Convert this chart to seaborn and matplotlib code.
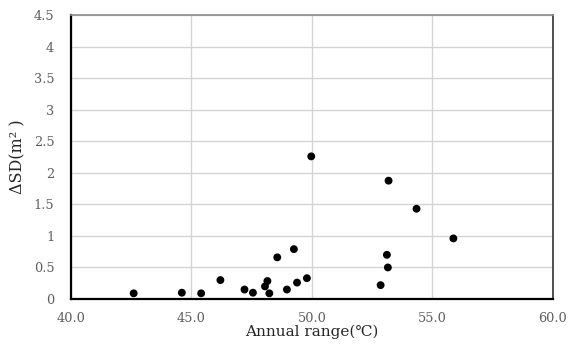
import matplotlib
matplotlib.use("Agg")
import matplotlib.pyplot as plt
import seaborn as sns
import pandas as pd

annual_range = [42.6, 44.6, 45.4, 46.2, 47.2, 47.55, 48.05, 48.15, 48.23, 48.56, 48.96,
                49.25, 49.38, 49.79, 49.97, 53.18, 54.34, 55.87, 53.11, 53.15, 52.85]
delta_sd = [0.09, 0.10, 0.09, 0.30, 0.15, 0.10, 0.20, 0.285, 0.09, 0.66, 0.15,
            0.79, 0.26, 0.33, 2.26, 1.875, 1.43, 0.96, 0.70, 0.50, 0.22]
x_ticks = [40, 45, 50, 55, 60]
y_ticks = [0, 0.5, 1, 1.5, 2, 2.5, 3, 3.5, 4, 4.5]

df = pd.DataFrame({"x": annual_range, "y": delta_sd})

sns.set_theme(style="white")
plt.rcParams['font.family'] = ['DejaVu Serif', 'Noto Sans CJK KR', 'DejaVu Sans']

fig = plt.figure(figsize=(5.7, 3.47), dpi=100)
ax = fig.add_axes([0.1246, 0.1383, 0.8454, 0.8185])

sns.scatterplot(data=df, x="x", y="y", ax=ax, color="black", s=32,
                edgecolor="none", zorder=3)

ax.set_xlim(40, 60)
ax.set_ylim(0, 4.5)
ax.set_xticks(x_ticks)
ax.set_xticklabels([f"{v:.1f}" for v in x_ticks])
ax.set_yticks(y_ticks)
ax.set_yticklabels([f"{v:g}" for v in y_ticks])
ax.grid(True, color="#d4d4d4", linewidth=1)
ax.set_axisbelow(True)
ax.tick_params(axis="both", labelsize=9.3, colors="#5e5e5e", length=0)
ax.tick_params(axis="y", pad=12)
ax.tick_params(axis="x", pad=9)

for side in ["left", "bottom"]:
    ax.spines[side].set_color("black")
    ax.spines[side].set_linewidth(1.6)
ax.spines["top"].set_color("#8c8c8c")
ax.spines["top"].set_linewidth(1.2)
ax.spines["right"].set_color("#333333")
ax.spines["right"].set_linewidth(1.2)

ax.set_xlabel("Annual range(℃)", fontsize=11, color="#262626", labelpad=0)
ax.set_ylabel("ΔSD(m² )", fontsize=11.5, color="#262626", labelpad=5)

fig.savefig("out.png", dpi=100)
